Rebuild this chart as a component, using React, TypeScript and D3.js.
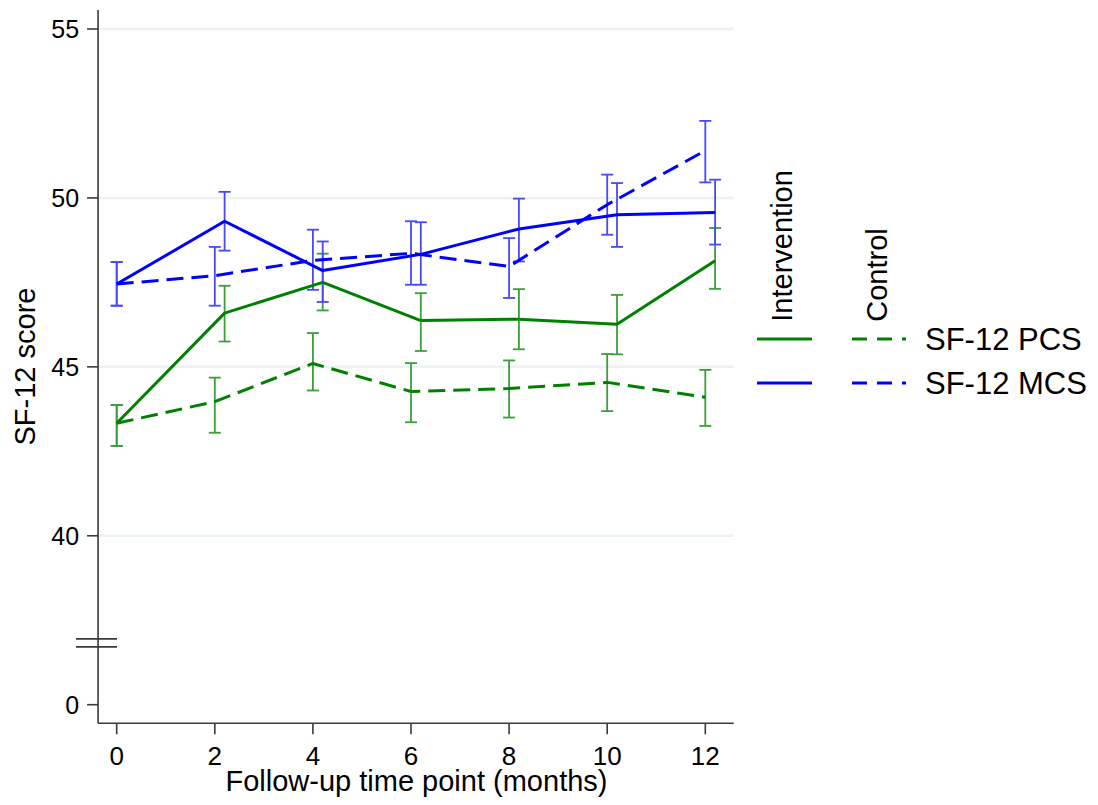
import React from "react";
import * as d3 from "d3";

const months = [0, 2, 4, 6, 8, 10, 12];
const interventionX = [0, 2.2, 4.2, 6.2, 8.2, 10.2, 12.2];
const controlX = [0, 2, 4, 6, 8, 10, 12];

const pcsInt = [43.33, 46.59, 47.5, 46.37, 46.41, 46.26, 48.14];
const pcsIntLo = [42.66, 45.75, 46.67, 45.47, 45.52, 45.37, 47.31];
const pcsIntHi = [43.87, 47.4, 48.35, 47.18, 47.3, 47.13, 49.11];

const pcsCtl = [43.33, 43.97, 45.1, 44.27, 44.36, 44.54, 44.1];
const pcsCtlLo = [42.66, 43.05, 44.3, 43.36, 43.5, 43.69, 43.25];
const pcsCtlHi = [43.87, 44.68, 46.0, 45.11, 45.19, 45.38, 44.91];

const mcsInt = [47.45, 49.31, 47.85, 48.33, 49.08, 49.5, 49.57];
const mcsIntLo = [46.81, 48.44, 46.92, 47.43, 48.12, 48.55, 48.62];
const mcsIntHi = [48.1, 50.18, 48.71, 49.28, 49.98, 50.44, 50.54];

const mcsCtl = [47.45, 47.7, 48.15, 48.36, 47.97, 49.8, 51.4];
const mcsCtlLo = [46.81, 46.81, 47.28, 47.43, 47.04, 48.91, 50.46];
const mcsCtlHi = [48.1, 48.55, 49.06, 49.31, 48.81, 50.69, 52.28];

const yTickValues = [0, 40, 45, 50, 55];
const gridValues = [40, 45, 50, 55];
const xTickValues = [0, 2, 4, 6, 8, 10, 12];

const groupLabels = ["Intervention", "Control"];
const measureLabels = ["SF-12 PCS", "SF-12 MCS"];

const GREEN = "#008000";
const BLUE = "#0000ff";
const GREEN_ERR = "#3a9e3a";
const BLUE_ERR = "#4848ff";
const FONT = "'Liberation Sans', Arial, sans-serif";

// broken axis: values below the break are shifted up by 35
const breakMap = (v: number) => (v < 40 ? v + 35 : v);

export default function App() {
  const x = d3.scaleLinear().domain([0, 12]).range([116.7, 705.3]);
  const y = d3.scaleLinear().domain([35, 55]).range([704.7, 29]);
  const axisLeft = x(-0.38);
  const axisRight = x(12.58);
  const axisBottom = y(34.45);
  const axisTop = y(55.56);

  const line = (xs: number[], vs: number[]) =>
    d3
      .line<number>()
      .x((_, i) => x(xs[i]))
      .y((v) => y(v))(vs) as string;

  const series = [
    { xs: interventionX, v: pcsInt, lo: pcsIntLo, hi: pcsIntHi, c: GREEN, ec: GREEN_ERR, dash: undefined },
    { xs: controlX, v: pcsCtl, lo: pcsCtlLo, hi: pcsCtlHi, c: GREEN, ec: GREEN_ERR, dash: "17,8" },
    { xs: interventionX, v: mcsInt, lo: mcsIntLo, hi: mcsIntHi, c: BLUE, ec: BLUE_ERR, dash: undefined },
    { xs: controlX, v: mcsCtl, lo: mcsCtlLo, hi: mcsCtlHi, c: BLUE, ec: BLUE_ERR, dash: "17,8" },
  ];

  const cap = 6;
  const breakY = y(36.83);

  return (
    <svg
      width={1098}
      height={805}
      style={{ position: "absolute", left: 0, top: 0, background: "#fff" }}
      fontFamily={FONT}
    >
      <rect x={0} y={0} width={1098} height={805} fill="#fff" />
      {/* gridlines */}
      {gridValues.map((g) => (
        <line key={g} x1={axisLeft} x2={axisRight} y1={y(g)} y2={y(g)} stroke="#eaf2f3" strokeWidth={2.5} />
      ))}
      {/* error bars */}
      {series.map((s, si) => (
        <g key={"e" + si} stroke={s.ec} strokeWidth={1.8} fill="none">
          {months.map((m, i) => {
            const cx = x(s.xs[i]);
            return (
              <g key={m}>
                <line x1={cx} x2={cx} y1={y(s.lo[i])} y2={y(s.hi[i])} />
                <line x1={cx - cap} x2={cx + cap} y1={y(s.lo[i])} y2={y(s.lo[i])} />
                <line x1={cx - cap} x2={cx + cap} y1={y(s.hi[i])} y2={y(s.hi[i])} />
              </g>
            );
          })}
        </g>
      ))}
      {/* lines */}
      {series.map((s, si) => (
        <path
          key={"l" + si}
          d={line(s.xs, s.v)}
          fill="none"
          stroke={s.c}
          strokeWidth={3}
          strokeDasharray={s.dash}
          strokeLinejoin="round"
        />
      ))}
      {/* axes */}
      <g stroke="#3a3a3a" strokeWidth={1.6}>
        <line x1={axisLeft} x2={axisLeft} y1={axisTop} y2={axisBottom} />
        <line x1={axisLeft} x2={axisRight} y1={axisBottom} y2={axisBottom} />
        {yTickValues.map((t) => (
          <line key={t} x1={axisLeft - 11} x2={axisLeft} y1={y(breakMap(t))} y2={y(breakMap(t))} />
        ))}
        {xTickValues.map((t) => (
          <line key={t} x1={x(t)} x2={x(t)} y1={axisBottom} y2={axisBottom + 11} />
        ))}
        {/* axis break */}
        <line x1={axisLeft - 22} x2={axisLeft + 19} y1={breakY - 4} y2={breakY - 4} />
        <line x1={axisLeft - 22} x2={axisLeft + 19} y1={breakY + 4} y2={breakY + 4} />
      </g>
      {/* tick labels */}
      {yTickValues.map((t) => (
        <text key={t} x={axisLeft - 19} y={y(breakMap(t))} dy="0.36em" textAnchor="end" fontSize={25} fill="#000">
          {t}
        </text>
      ))}
      {xTickValues.map((t) => (
        <text key={t} x={x(t)} y={765} textAnchor="middle" fontSize={26} fill="#000">
          {t}
        </text>
      ))}
      {/* axis titles */}
      <text x={416.5} y={791} textAnchor="middle" fontSize={29} fill="#000">
        Follow-up time point (months)
      </text>
      <text transform={`translate(35,366.5) rotate(-90)`} textAnchor="middle" fontSize={29} fill="#000">
        SF-12 score
      </text>
      {/* legend */}
      <text transform={`translate(791.5,321.7) rotate(-90)`} textAnchor="start" fontSize={29} fill="#000">
        {groupLabels[0]}
      </text>
      <text transform={`translate(886.5,321.7) rotate(-90)`} textAnchor="start" fontSize={29} fill="#000">
        {groupLabels[1]}
      </text>
      {[GREEN, BLUE].map((c, i) => {
        const ly = 339 + i * 44;
        return (
          <g key={c}>
            <line x1={757} x2={812} y1={ly} y2={ly} stroke={c} strokeWidth={3} />
            <line x1={852} x2={906} y1={ly} y2={ly} stroke={c} strokeWidth={3} strokeDasharray="15,10" />
            <text x={925} y={ly} dy="0.36em" fontSize={31} fill="#000">
              {measureLabels[i]}
            </text>
          </g>
        );
      })}
    </svg>
  );
}
